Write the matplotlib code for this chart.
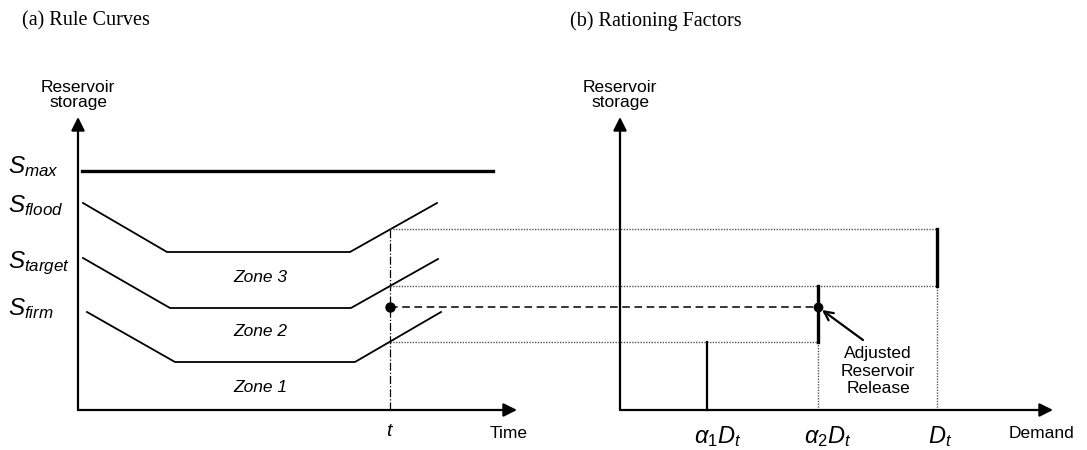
import numpy as np
import matplotlib
matplotlib.use("Agg")
import matplotlib.pyplot as plt

plt.rcParams['font.family'] = ['Liberation Sans', 'DejaVu Sans']
plt.rcParams['mathtext.fontset'] = 'custom'
plt.rcParams['mathtext.it'] = 'Liberation Sans:italic'
plt.rcParams['mathtext.rm'] = 'Liberation Sans'

# rule curves (time, storage) in diagram units
s_max = 23.9
s_max_time = [0.4, 41.5]
flood_time = [0.5, 8.9, 27.2, 35.9]
flood_store = [20.7, 15.8, 15.8, 20.7]
target_time = [0.5, 9.2, 27.3, 36.0]
target_store = [15.2, 10.2, 10.2, 15.1]
firm_time = [0.9, 9.7, 27.7, 36.3]
firm_store = [9.8, 4.8, 4.8, 9.8]
t_now = 31.2
storage_now = 10.3
curve_labels = [r'$S_{max}$', r'$S_{flood}$', r'$S_{target}$', r'$S_{firm}$']
curve_label_y = [23.7, 19.8, 14.2, 9.5]
zone_labels = ['Zone 3', 'Zone 2', 'Zone 1']
zone_y = [13.2, 7.8, 2.3]

# rationing factors panel (demand axis)
panel_b_origin = 54.2
alpha1_D = 8.7
alpha2_D = 19.8
D_t = 31.7
demand_labels = [r'$\alpha_1D_t$', r'$\alpha_2D_t$', r'$D_t$']

fig = plt.figure(figsize=(10.87, 4.5), dpi=100)
ax = fig.add_axes([0, 0, 1, 1])
ax.set_xlim(-7.8, 100.9)
ax.set_ylim(-4.0, 41.0)
ax.axis('off')

arrow = dict(arrowstyle='-|>', lw=1.6, color='black', mutation_scale=20, shrinkA=0, shrinkB=0)

# ---- (a) rule curves ----
ax.annotate('', xy=(0, 29.3), xytext=(0, 0), arrowprops=arrow)
ax.annotate('', xy=(43.9, 0), xytext=(0, 0), arrowprops=arrow)
ax.plot(s_max_time, [s_max, s_max], color='black', lw=2.4)
for tt, ss in [(flood_time, flood_store), (target_time, target_store), (firm_time, firm_store)]:
    ax.plot(tt, ss, color='black', lw=1.3)

for lab, y in zip(curve_labels, curve_label_y):
    ax.text(-7.0, y, lab, fontsize=17.5, ha='left', va='baseline')
for lab, y in zip(zone_labels, zone_y):
    ax.text(18.2, y, lab, fontsize=12.5, style='italic', ha='center', va='center')

ax.text(0, 31.5, 'Reservoir\nstorage', fontsize=12.5, ha='center', va='center', linespacing=1.05)
ax.text(t_now, -2.1, r'$t$', fontsize=14, ha='center', va='center')
ax.text(43.1, -2.4, 'Time', fontsize=12.5, ha='center', va='center')

flood_t = np.interp(t_now, flood_time, flood_store)
target_t = np.interp(t_now, target_time, target_store)
firm_t = np.interp(t_now, firm_time, firm_store)

ax.plot([t_now, t_now], [0, flood_t], color='black', lw=0.9, ls='-.')
ax.plot(t_now, storage_now, 'o', color='black', ms=6.5)

# ---- (b) rationing factors ----
x_a1 = panel_b_origin + alpha1_D
x_a2 = panel_b_origin + alpha2_D
x_d = panel_b_origin + D_t

ax.annotate('', xy=(panel_b_origin, 29.3), xytext=(panel_b_origin, 0), arrowprops=arrow)
ax.annotate('', xy=(panel_b_origin + 43.3, 0), xytext=(panel_b_origin, 0), arrowprops=arrow)

dot = dict(color='#555555', lw=1.0, ls=(0, (1, 1)))
ax.plot([t_now, x_d], [flood_t, flood_t], **dot)
ax.plot([t_now, x_d], [target_t, target_t], **dot)
ax.plot([t_now, x_a2], [firm_t, firm_t], **dot)
ax.plot([x_a2, x_a2], [0, firm_t], **dot)
ax.plot([x_d, x_d], [0, target_t], **dot)
ax.plot([t_now, x_a2], [storage_now, storage_now], color='black', lw=1.1, ls=(0, (5, 3)))

ax.plot([x_a1, x_a1], [0, firm_t], color='black', lw=1.6)
ax.plot([x_a2, x_a2], [firm_t, target_t], color='black', lw=2.4)
ax.plot([x_d, x_d], [target_t, flood_t], color='black', lw=2.4)
ax.plot(x_a2, storage_now, 'o', color='black', ms=6)

ax.annotate('', xy=(x_a2 + 0.4, storage_now - 0.3), xytext=(x_a2 + 4.5, 7.0),
            arrowprops=dict(arrowstyle='->', lw=1.6, color='black', mutation_scale=16,
                            shrinkA=0, shrinkB=0))
ax.text(x_a2 + 6.0, 3.9, 'Adjusted\nReservoir\nRelease', fontsize=12.5, ha='center',
        va='center', linespacing=1.2)

ax.text(panel_b_origin, 31.5, 'Reservoir\nstorage', fontsize=12.5, ha='center', va='center',
        linespacing=1.05)
for lab, x in zip(demand_labels, [x_a1 + 1.1, x_a2 + 1.0, x_d + 0.3]):
    ax.text(x, -2.7, lab, fontsize=17, ha='center', va='center')
ax.text(panel_b_origin + 42.2, -2.3, 'Demand', fontsize=12.5, ha='center', va='center')

# panel titles
ax.text(-5.6, 38.9, '(a) Rule Curves', fontsize=14.5, family='Liberation Serif',
        ha='left', va='center')
ax.text(49.2, 38.9, '(b) Rationing Factors', fontsize=14.5, family='Liberation Serif',
        ha='left', va='center')

fig.savefig('out.png', dpi=100)
